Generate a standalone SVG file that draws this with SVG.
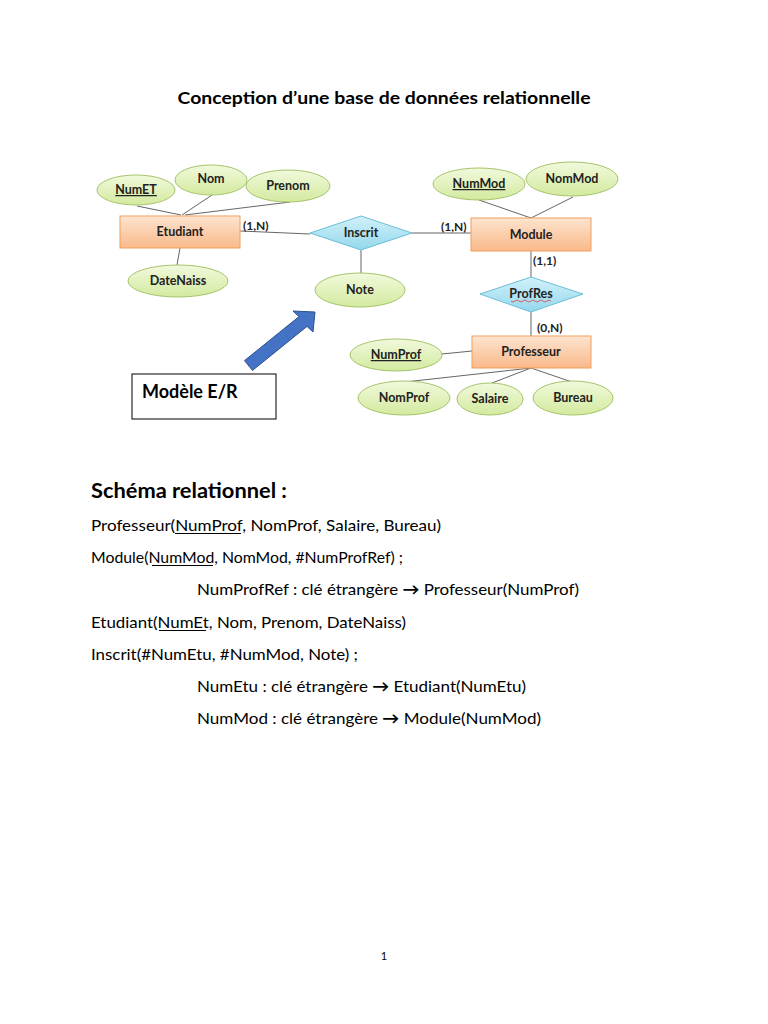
<svg xmlns="http://www.w3.org/2000/svg" width="768" height="1024" viewBox="0 0 768 1024">
<defs>
<linearGradient id="gEll" x1="0" y1="0" x2="0" y2="1"><stop offset="0" stop-color="#f1f9dc"/><stop offset="1" stop-color="#d3ea9f"/></linearGradient>
<linearGradient id="gRect" x1="0" y1="0" x2="0" y2="1"><stop offset="0" stop-color="#fde4cf"/><stop offset="1" stop-color="#f9b98a"/></linearGradient>
<linearGradient id="gDia" x1="0" y1="0" x2="0" y2="1"><stop offset="0" stop-color="#d2f1fa"/><stop offset="1" stop-color="#93d8ec"/></linearGradient>
</defs>
<style>
.ell{fill:url(#gEll);stroke:#a6c46a;stroke-width:1}
.ent{fill:url(#gRect);stroke:#f0a060;stroke-width:1}
.rel{fill:url(#gDia);stroke:#6cbfd8;stroke-width:1}
.lbl{font-family:Lato,"Liberation Sans",sans-serif;font-weight:bold;font-size:12.5px;fill:#222;text-anchor:middle}
.card{font-family:Lato,"Liberation Sans",sans-serif;font-weight:bold;font-size:12px;fill:#222}
.con line{stroke:#666;stroke-width:1}
.body{font-family:Lato,"Liberation Sans",sans-serif;font-size:16px;fill:#000}
.ul{stroke:#000;stroke-width:1.1}
.arr{font-weight:bold}
</style>
<rect width="768" height="1024" fill="#fff"/>
<text x="384" y="104" font-family="Lato,'Liberation Sans',sans-serif" font-weight="bold" font-size="17" text-anchor="middle" textLength="413" lengthAdjust="spacingAndGlyphs">Conception d’une base de données relationnelle</text>

<g id="connectors" class="con">
<line x1="137" y1="206" x2="181" y2="215"/>
<line x1="212" y1="195" x2="182" y2="215"/>
<line x1="290" y1="202" x2="185" y2="215"/>
<line x1="180" y1="248" x2="177" y2="265"/>
<line x1="240" y1="231" x2="310" y2="234"/>
<line x1="361" y1="250" x2="361" y2="273"/>
<line x1="412" y1="233" x2="471" y2="233"/>
<line x1="479" y1="200" x2="531" y2="218"/>
<line x1="573" y1="197" x2="531" y2="218"/>
<line x1="531" y1="251" x2="531" y2="277"/>
<line x1="531" y1="312" x2="531" y2="336"/>
<line x1="442" y1="354" x2="472" y2="351"/>
<line x1="531" y1="368" x2="405" y2="382"/>
<line x1="531" y1="368" x2="492" y2="383"/>
<line x1="531" y1="368" x2="572" y2="382"/>
</g>

<g id="cards">
<text class="card" x="243" y="230">(1,N)</text>
<text class="card" x="441" y="231">(1,N)</text>
<text class="card" x="533" y="265">(1,1)</text>
<text class="card" x="537" y="332">(0,N)</text>
</g>

<g id="numet"><ellipse class="ell" cx="136" cy="190" rx="39" ry="15"/><text class="lbl" x="136" y="194" text-decoration="underline">NumET</text></g>
<g id="nom"><ellipse class="ell" cx="211" cy="180" rx="36" ry="15"/><text class="lbl" x="211" y="183">Nom</text></g>
<g id="prenom"><ellipse class="ell" cx="288" cy="186" rx="42" ry="16"/><text class="lbl" x="288" y="190">Prenom</text></g>
<g id="etudiant"><rect class="ent" x="120" y="216" width="120" height="32"/><text class="lbl" x="180" y="236">Etudiant</text></g>
<g id="datenaiss"><ellipse class="ell" cx="178" cy="281" rx="50" ry="16"/><text class="lbl" x="178" y="285">DateNaiss</text></g>
<g id="inscrit"><polygon class="rel" points="310,233 361,216 412,233 361,250"/><text class="lbl" x="361" y="237" font-size="11">Inscrit</text></g>
<g id="note"><ellipse class="ell" cx="360" cy="290" rx="45" ry="17"/><text class="lbl" x="360" y="294">Note</text></g>
<g id="nummod"><ellipse class="ell" cx="479" cy="184" rx="46" ry="16"/><text class="lbl" x="479" y="188" text-decoration="underline">NumMod</text></g>
<g id="nommod"><ellipse class="ell" cx="572" cy="179" rx="46" ry="17"/><text class="lbl" x="572" y="183">NomMod</text></g>
<g id="module"><rect class="ent" x="471" y="218" width="120" height="33"/><text class="lbl" x="531" y="239">Module</text></g>
<g id="profres"><polygon class="rel" points="480,294 531,277 583,294 531,312"/><text class="lbl" x="531" y="298" font-size="11">ProfRes</text><path d="M511,301 q2,2 4,0 t4,0 t4,0 t4,0 t4,0 t4,0 t4,0 t4,0 t4,0 t4,0" fill="none" stroke="#e04040" stroke-width="0.8"/></g>
<g id="professeur"><rect class="ent" x="472" y="336" width="119" height="32"/><text class="lbl" x="531" y="356">Professeur</text></g>
<g id="numprof"><ellipse class="ell" cx="396" cy="355" rx="46" ry="16"/><text class="lbl" x="396" y="359" text-decoration="underline">NumProf</text></g>
<g id="nomprof"><ellipse class="ell" cx="404" cy="398" rx="46" ry="17"/><text class="lbl" x="404" y="402">NomProf</text></g>
<g id="salaire"><ellipse class="ell" cx="490" cy="399" rx="33" ry="16"/><text class="lbl" x="490" y="403">Salaire</text></g>
<g id="bureau"><ellipse class="ell" cx="573" cy="398" rx="40" ry="17"/><text class="lbl" x="573" y="402">Bureau</text></g>

<g id="arrow"><polygon points="244.5,360.6 299,316.6 293,311 315,312 313,332 307,326.4 252.5,370.4" fill="#4472c4" stroke="#2f528f" stroke-width="1"/></g>
<g id="modele"><rect x="132" y="374" width="144" height="45" fill="#fff" stroke="#000" stroke-width="1"/><text x="142" y="398" font-family="Lato,'Liberation Sans',sans-serif" font-weight="bold" font-size="18">Modèle E/R</text></g>

<text x="91" y="498" font-family="Lato,'Liberation Sans',sans-serif" font-weight="bold" font-size="21" textLength="196" lengthAdjust="spacingAndGlyphs">Schéma relationnel :</text>
<text class="body" x="91" y="531" textLength="350" lengthAdjust="spacingAndGlyphs">Professeur(NumProf, NomProf, Salaire, Bureau)</text>
<line class="ul" x1="175" y1="533.5" x2="241" y2="533.5"/>
<text class="body" x="91" y="563" textLength="312" lengthAdjust="spacingAndGlyphs">Module(NumMod, NomMod, #NumProfRef) ;</text>
<line class="ul" x1="152" y1="565.5" x2="213" y2="565.5"/>
<text class="body" x="197" y="595" textLength="382" lengthAdjust="spacingAndGlyphs">NumProfRef : clé étrangère <tspan class="arr">→</tspan> Professeur(NumProf)</text>
<text class="body" x="91" y="628" textLength="315" lengthAdjust="spacingAndGlyphs">Etudiant(NumEt, Nom, Prenom, DateNaiss)</text>
<line class="ul" x1="159" y1="630.5" x2="206" y2="630.5"/>
<text class="body" x="91" y="660" textLength="267" lengthAdjust="spacingAndGlyphs">Inscrit(#NumEtu, #NumMod, Note) ;</text>
<text class="body" x="197" y="692" textLength="329" lengthAdjust="spacingAndGlyphs">NumEtu : clé étrangère <tspan class="arr">→</tspan> Etudiant(NumEtu)</text>
<text class="body" x="197" y="724" textLength="344" lengthAdjust="spacingAndGlyphs">NumMod : clé étrangère <tspan class="arr">→</tspan> Module(NumMod)</text>
<text x="384" y="960" font-family="Lato,'Liberation Sans',sans-serif" font-size="11" text-anchor="middle">1</text>
</svg>
